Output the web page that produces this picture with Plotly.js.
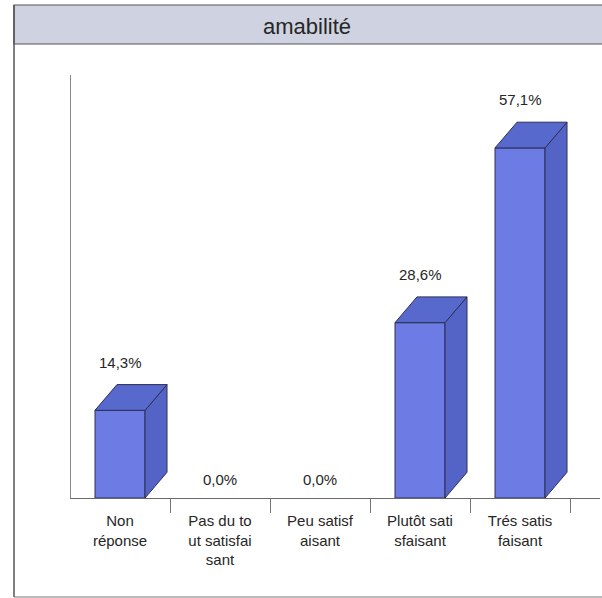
<!DOCTYPE html>
<html>
<head>
<meta charset="utf-8">
<script src="https://cdn.plot.ly/plotly-3.0.1.min.js"></script>
<style>html,body{margin:0;padding:0;background:#fff;}#chart{width:602px;height:598px;}</style>
</head>
<body>
<div id="chart"></div>
<script>
// ---- data ----
const categories = ["Non<br>réponse", "Pas du to<br>ut satisfai<br>sant", "Peu satisf<br>aisant", "Plutôt sati<br>sfaisant", "Trés satis<br>faisant"];
const values = [14.3, 0.0, 0.0, 28.6, 57.1];
const valueLabels = ["14,3%", "0,0%", "0,0%", "28,6%", "57,1%"];
const chartTitle = "amabilité";

// ---- styling / 3D depth (style constants) ----
const FRONT = "#6c7ce4", TOP = "#5869cd", SIDE = "#5364c6", EDGE = "#2c2f55";
const TXT = "#262626";
const HALF = 0.25, DX = 0.22, DY = 4.2;
const idx = categories.map((_, i) => i);

// side and top faces built from values
const sideX = [], sideY = [], topX = [], topY = [];
values.forEach((v, i) => {
  if (v <= 0) return;
  sideX.push(i + HALF, i + HALF + DX, i + HALF + DX, i + HALF, i + HALF, null);
  sideY.push(0, DY, v + DY, v, 0, null);
  topX.push(i - HALF, i + HALF, i + HALF + DX, i - HALF + DX, i - HALF, null);
  topY.push(v, v, v + DY, v + DY, v, null);
});

const traces = [
  {type: "scatter", mode: "lines", x: sideX, y: sideY, fill: "toself", fillcolor: SIDE,
   line: {color: EDGE, width: 1}, hoverinfo: "skip", showlegend: false},
  {type: "bar", x: idx, y: values, width: 2 * HALF,
   marker: {color: FRONT, line: {color: EDGE, width: values.map(v => v > 0 ? 1 : 0)}},
   hoverinfo: "skip", showlegend: false},
  {type: "scatter", mode: "lines", x: topX, y: topY, fill: "toself", fillcolor: TOP,
   line: {color: EDGE, width: 1}, hoverinfo: "skip", showlegend: false}
];

const L = 71, T = 75, W = 529, H = 423;
const px = x => (x - L) / W;
const py = y => (T + H - y) / H;

const annotations = values.map((v, i) => ({
  x: i, y: v > 0 ? v + DY : 0, xref: "x", yref: "y",
  text: valueLabels[i], showarrow: false, yanchor: "bottom",
  yshift: v > 0 ? 12 : 8,
  font: {family: "Liberation Sans, Arial, sans-serif", size: 15, color: TXT}
}));

const layout = {
  width: 602, height: 598,
  margin: {l: L, r: 602 - L - W, t: T, b: 598 - T - H, pad: 0},
  paper_bgcolor: "#ffffff", plot_bgcolor: "rgba(0,0,0,0)",
  title: {text: chartTitle, x: 307 / 602, xanchor: "center", y: 1 - 26 / 598, yanchor: "middle",
          font: {family: "Liberation Sans, Arial, sans-serif", size: 22, color: TXT}},
  xaxis: {
    range: [-0.49, 4.8], tickvals: idx, ticktext: categories, ticks: "",
    showline: true, linecolor: "#6a6a6a", linewidth: 1, showgrid: false, zeroline: false,
    tickfont: {family: "Liberation Sans, Arial, sans-serif", size: 15, color: TXT},
    ticklabelstandoff: 9,
    minor: {ticks: "outside", tick0: 0.5, dtick: 1, ticklen: 14, tickcolor: "#777", tickwidth: 1, showgrid: false}
  },
  yaxis: {
    range: [0, 69], showline: true, linecolor: "#8a8a8a", linewidth: 1,
    showticklabels: false, ticks: "", showgrid: false, zeroline: false
  },
  bargap: 0,
  annotations: annotations,
  shapes: [
    {type: "rect", xref: "paper", yref: "paper", x0: px(14), x1: px(604), y0: py(5), y1: py(44),
     fillcolor: "#cfd3e1", line: {color: "#555", width: 1.2}, layer: "below"},
    {type: "line", xref: "paper", yref: "paper", x0: px(14), x1: px(14), y0: py(5), y1: py(597),
     line: {color: "#555", width: 1.5}},
    {type: "line", xref: "paper", yref: "paper", x0: px(14), x1: px(604), y0: py(597), y1: py(597),
     line: {color: "#777", width: 1}}
  ]
};

Plotly.newPlot("chart", traces, layout, {staticPlot: true, displayModeBar: false});
</script>
</body>
</html>
